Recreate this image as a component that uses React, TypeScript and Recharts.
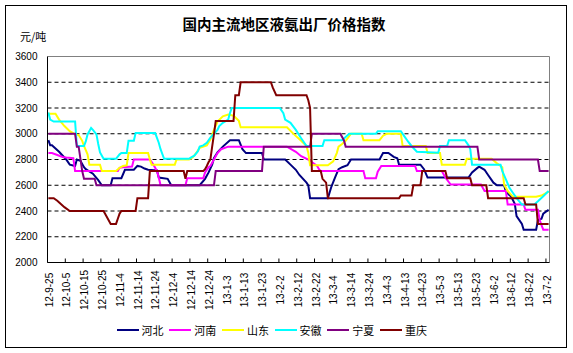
import React from 'react';
import { LineChart, Line, XAxis, YAxis, ReferenceLine, Legend } from 'recharts';

// x tick labels, one every 10 days (day index 0 = 12-9-25)
const DAY_LABELS = ['12-9-25','12-10-5','12-10-15','12-10-25','12-11-4','12-11-14','12-11-24','12-12-4','12-12-14','12-12-24','13-1-3','13-1-13','13-1-23','13-2-2','13-2-12','13-2-22','13-3-4','13-3-14','13-3-24','13-4-3','13-4-13','13-4-23','13-5-3','13-5-13','13-5-23','13-6-2','13-6-12','13-6-22','13-7-2'];
const Y_TICKS = [2000, 2200, 2400, 2600, 2800, 3000, 3200, 3400, 3600];
const GRID_VALUES = [2200, 2400, 2600, 2800, 3000, 3200, 3400];

// [day index, price] vertices
const HEBEI: [number, number][] = [[0,2950],[1,2910],[2,2910],[6,2860],[10,2800],[12,2760],[15,2750],[16,2800],[18,2790],[20,2740],[21,2725],[25,2690],[28,2640],[30,2600],[35,2600],[36,2655],[41,2655],[43,2720],[48,2720],[50,2750],[52,2745],[54,2730],[56,2720],[61,2715],[62,2660],[67,2650],[69,2600],[85,2600],[88,2650],[90,2700],[92,2760],[93,2810],[95,2855],[98,2900],[102,2950],[107,2950],[109,2880],[111,2850],[120,2850],[121,2800],[133,2800],[136,2760],[139,2720],[141,2680],[145,2620],[146,2600],[147,2500],[157,2500],[159,2590],[161,2660],[163,2725],[165,2740],[168,2755],[170,2800],[186,2800],[188,2850],[191,2850],[194,2820],[196,2810],[197,2760],[209,2760],[211,2725],[213,2660],[236,2660],[238,2700],[241,2735],[242,2745],[245,2720],[247,2680],[250,2620],[252,2600],[256,2600],[257,2550],[260,2510],[262,2455],[263,2360],[266,2300],[267,2255],[274,2255],[275,2330],[277,2340],[278,2380],[281,2410]];
const HENAN: [number, number][] = [[0,2850],[2,2850],[5,2835],[8,2820],[10,2815],[14,2810],[15,2710],[39,2710],[40,2735],[42,2740],[47,2745],[48,2800],[57,2800],[59,2760],[61,2710],[62,2660],[63,2600],[77,2600],[78,2655],[87,2655],[88,2700],[90,2740],[91,2750],[93,2800],[95,2850],[97,2880],[101,2900],[134,2900],[139,2860],[142,2826],[146,2800],[151,2750],[152,2725],[153,2710],[177,2710],[178,2655],[184,2655],[185,2705],[187,2750],[206,2750],[207,2710],[221,2710],[223,2660],[226,2605],[243,2605],[245,2555],[257,2555],[258,2450],[267,2450],[268,2410],[275,2410],[276,2330],[277,2290],[278,2255],[281,2255]];
const SHANDONG: [number, number][] = [[0,3155],[4,3155],[6,3110],[9,3060],[12,3020],[15,2995],[17,2990],[19,2945],[20,2905],[22,2840],[23,2760],[29,2760],[30,2710],[38,2710],[40,2735],[42,2750],[44,2755],[45,2850],[56,2850],[57,2800],[58,2760],[71,2760],[72,2800],[79,2800],[81,2815],[83,2850],[85,2890],[89,2910],[91,2955],[93,3030],[95,3095],[98,3135],[101,3150],[104,3140],[107,3100],[108,3050],[134,3050],[138,2995],[142,2945],[145,2905],[146,2850],[147,2755],[157,2755],[160,2785],[162,2850],[163,2900],[165,2920],[167,2945],[170,3000],[176,3000],[177,2950],[186,2950],[188,2985],[190,3000],[198,3000],[199,2905],[212,2905],[213,2850],[220,2850],[221,2760],[234,2760],[235,2805],[249,2805],[252,2770],[255,2740],[256,2605],[258,2555],[261,2510],[274,2510],[277,2520],[279,2535],[281,2550]];
const ANHUI: [number, number][] = [[0,3165],[1,3110],[3,3095],[15,3095],[16,2905],[20,2905],[21,2940],[22,2995],[24,3045],[25,3030],[27,2995],[28,2920],[29,2855],[31,2805],[38,2805],[40,2840],[41,2850],[44,2850],[45,2945],[48,2945],[49,3005],[60,3005],[62,2930],[63,2880],[65,2805],[79,2805],[80,2815],[82,2830],[84,2865],[85,2900],[87,2910],[89,2930],[91,2970],[93,3000],[95,3030],[96,3060],[98,3085],[101,3110],[102,3160],[103,3200],[130,3200],[132,3160],[133,3110],[136,3085],[139,3030],[142,2965],[145,2905],[154,2905],[155,2950],[165,2950],[167,2975],[169,3000],[184,3000],[185,3020],[198,3020],[200,2980],[202,2940],[204,2905],[207,2860],[219,2852],[220,2905],[224,2905],[225,2950],[234,2950],[236,2910],[237,2880],[238,2760],[254,2760],[255,2710],[257,2645],[259,2580],[261,2540],[263,2500],[266,2450],[273,2450],[275,2475],[278,2515],[281,2555]];
const NINGXIA: [number, number][] = [[0,3000],[15,3000],[16,2900],[17,2900],[19,2710],[20,2650],[26,2650],[27,2600],[93,2600],[94,2710],[120,2710],[121,2900],[147,2900],[148,3000],[164,3000],[166,2950],[167,2900],[241,2900],[242,2800],[275,2800],[276,2710],[281,2710]];
const CHONGQING: [number, number][] = [[0,2500],[3,2500],[5,2480],[7,2455],[9,2430],[12,2400],[31,2400],[33,2350],[35,2300],[38,2300],[39,2340],[40,2380],[41,2400],[49,2400],[50,2500],[56,2500],[57,2710],[76,2710],[77,2650],[78,2710],[87,2710],[88,2725],[89,2750],[90,2780],[91,2800],[92,2900],[93,2995],[94,3100],[104,3100],[105,3300],[107,3300],[108,3400],[125,3400],[126,3360],[128,3300],[145,3300],[146,3260],[147,3200],[148,2710],[153,2710],[154,2650],[156,2620],[157,2500],[197,2500],[198,2520],[204,2520],[205,2600],[209,2600],[210,2710],[223,2710],[224,2655],[237,2655],[238,2600],[246,2600],[247,2500],[267,2500],[268,2450],[274,2450],[275,2300],[281,2300]];

const SERIES = [
  { name: '河北', color: '#000080', points: HEBEI },
  { name: '河南', color: '#FF00FF', points: HENAN },
  { name: '山东', color: '#FFFF00', points: SHANDONG },
  { name: '安徽', color: '#00FFFF', points: ANHUI },
  { name: '宁夏', color: '#800080', points: NINGXIA },
  { name: '重庆', color: '#800000', points: CHONGQING },
];

const N_DAYS = 282;
const X_TICKS = DAY_LABELS.map((_, i) => i * 10 - 0.5);
const PLOT_BOTTOM = 262.5;
const CJK = '"Noto Sans CJK SC", sans-serif';
const LATIN = '"Liberation Sans", Arial, sans-serif';

const XTick = (props: any) => {
  const { x, payload } = props;
  const idx = Math.round((payload.value + 0.5) / 10);
  const label = DAY_LABELS[idx];
  return (
    <g>
      <line x1={x} x2={x} y1={PLOT_BOTTOM - 4} y2={PLOT_BOTTOM} stroke="#000" strokeWidth={1} />
      {label ? (
        <text
          transform={`translate(${x + 1.5},290) rotate(-90)`}
          textAnchor="middle"
          dy="0.35em"
          fontSize={10}
          fontFamily={LATIN}
          fill="#000"
        >
          {label}
        </text>
      ) : null}
    </g>
  );
};

const renderLegend = () => (
  <div style={{ position: 'relative', width: 573, height: 20 }}>
    {SERIES.map((s, i) => (
      <div
        key={s.name}
        style={{ position: 'absolute', left: 116.5 + i * 52.7, top: 0, height: 20, display: 'flex', alignItems: 'center' }}
      >
        <div style={{ width: 22, height: 2, background: s.color }} />
        <span style={{ marginLeft: 3, fontSize: 11, fontFamily: CJK, color: '#000', lineHeight: '20px' }}>{s.name}</span>
      </div>
    ))}
  </div>
);

export default function App() {
  return (
    <div style={{ position: 'absolute', left: 0, top: 0, width: 573, height: 353, background: '#fff' }}>
      <div style={{ position: 'absolute', left: 5, top: 5, width: 562, height: 343, border: '1px solid #000', boxSizing: 'border-box' }} />
      <div style={{ position: 'absolute', left: 0, top: 14, width: 568, textAlign: 'center', fontFamily: CJK, fontWeight: 'bold', fontSize: 14.5, lineHeight: '20px', color: '#000' }}>
        国内主流地区液氨出厂价格指数
      </div>
      <div style={{ position: 'absolute', left: 20, top: 28, fontFamily: CJK, fontSize: 11, lineHeight: '16px', color: '#000' }}>
        元/吨
      </div>
      <div style={{ position: 'absolute', left: 0, top: 0 }}>
        <LineChart width={573} height={353} margin={{ top: 56.5, right: 23.5, left: 7.5, bottom: 30.5 }}>
          <XAxis
            type="number"
            dataKey="d"
            domain={[-0.5, N_DAYS - 0.5]}
            ticks={X_TICKS}
            interval={0}
            allowDataOverflow
            height={60}
            axisLine={{ stroke: '#000', strokeWidth: 1 }}
            tickLine={false}
            tick={<XTick />}
          />
          <YAxis
            type="number"
            domain={[2000, 3600]}
            ticks={Y_TICKS}
            interval={0}
            width={40}
            axisLine={{ stroke: '#000', strokeWidth: 1 }}
            tickLine={false}
            tickMargin={4}
            tick={{ fontSize: 10, fontFamily: LATIN, fill: '#000' }}
          />
          {GRID_VALUES.map((v) => (
            <ReferenceLine key={v} y={v} stroke="#000" strokeWidth={1} strokeDasharray="4 3" />
          ))}
          <ReferenceLine y={3600} stroke="#808080" strokeWidth={1} />
          <ReferenceLine x={N_DAYS - 0.5} stroke="#808080" strokeWidth={1} />
          {SERIES.map((s) => (
            <Line
              key={s.name}
              name={s.name}
              data={s.points.map(([d, v]) => ({ d, v }))}
              dataKey="v"
              type="linear"
              stroke={s.color}
              strokeWidth={2}
              dot={false}
              activeDot={false}
              isAnimationActive={false}
            />
          ))}
          <Legend
            verticalAlign="middle"
            align="center"
            layout="horizontal"
            wrapperStyle={{ top: 320, left: 0, width: 573, height: 20 }}
            content={renderLegend}
          />
        </LineChart>
      </div>
    </div>
  );
}
